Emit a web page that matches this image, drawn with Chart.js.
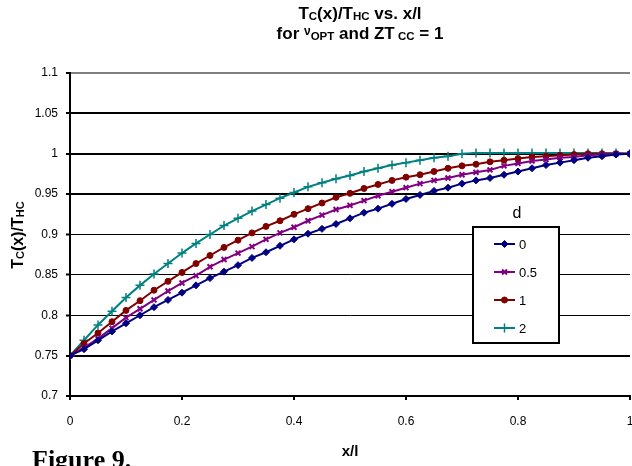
<!DOCTYPE html>
<html>
<head>
<meta charset="utf-8">
<script src="https://cdn.jsdelivr.net/npm/chart.js@4.4.1/dist/chart.umd.min.js"></script>
<style>
  html, body { margin: 0; padding: 0; background: #fff; }
  #wrap { position: relative; width: 632px; height: 466px; }
</style>
</head>
<body>
<div id="wrap"><canvas id="chart-tc" width="632" height="466"></canvas></div>
<script>
// Tc(x)/Thc along the leg, one curve per value of d

let xVals = [0, 0.025, 0.05, 0.075, 0.1, 0.125, 0.15, 0.175, 0.2, 0.225,
	0.25, 0.275, 0.3, 0.325, 0.35, 0.375, 0.4, 0.425, 0.45, 0.475,
	0.5, 0.525, 0.55, 0.575, 0.6, 0.625, 0.65, 0.675, 0.7, 0.725,
	0.75, 0.775, 0.8, 0.825, 0.85, 0.875, 0.9, 0.925, 0.95, 0.975, 1]

let tcD0 = [0.750, 0.758, 0.769, 0.780, 0.790, 0.800, 0.810, 0.819, 0.828, 0.837,
	0.846, 0.854, 0.862, 0.871, 0.878, 0.886, 0.894, 0.901, 0.907, 0.913,
	0.920, 0.927, 0.932, 0.938, 0.944, 0.949, 0.954, 0.958, 0.963, 0.967,
	0.970, 0.974, 0.978, 0.982, 0.986, 0.989, 0.992, 0.995, 0.997, 0.999, 1.000]

let tcD05 = [0.750, 0.760, 0.771, 0.784, 0.797, 0.808, 0.819, 0.830, 0.840, 0.849,
	0.860, 0.869, 0.877, 0.885, 0.894, 0.902, 0.909, 0.917, 0.924, 0.931,
	0.936, 0.942, 0.948, 0.953, 0.958, 0.963, 0.967, 0.970, 0.974, 0.977,
	0.980, 0.985, 0.988, 0.991, 0.993, 0.995, 0.996, 0.998, 0.999, 1.000, 1.000]

let tcD1 = [0.750, 0.765, 0.778, 0.792, 0.806, 0.818, 0.831, 0.842, 0.853, 0.864,
	0.874, 0.884, 0.893, 0.902, 0.910, 0.917, 0.925, 0.932, 0.939, 0.946,
	0.951, 0.957, 0.962, 0.967, 0.971, 0.974, 0.978, 0.982, 0.985, 0.987,
	0.990, 0.992, 0.994, 0.996, 0.997, 0.998, 0.999, 1.000, 1.000, 1.000, 1.000]

let tcD2 = [0.750, 0.769, 0.788, 0.805, 0.822, 0.837, 0.851, 0.864, 0.877, 0.889,
	0.900, 0.911, 0.920, 0.929, 0.937, 0.945, 0.952, 0.959, 0.964, 0.969,
	0.973, 0.978, 0.982, 0.986, 0.989, 0.992, 0.995, 0.997, 1.000, 1.001,
	1.001, 1.001, 1.001, 1.001, 1.001, 1.001, 1.001, 1.001, 1.001, 1.001, 1.000]

let dNames = ['0', '0.5', '1', '2']

const SANS = '"Liberation Sans", Arial, sans-serif'
const BIG = 'bold 17px ' + SANS
const SMALL = 'bold 11.5px ' + SANS
const AXBIG = 'bold 16px ' + SANS
const AXSMALL = 'bold 11px ' + SANS

// one line of text built from pieces that each have their own font / shift
function drawPieces(ctx, pieces, cx, baseline) {
	let total = 0
	pieces.forEach(p => {
		ctx.font = p.font
		p.w = ctx.measureText(p.text).width
		total += p.w
	})
	let x = cx - total / 2
	ctx.textAlign = 'left'
	ctx.textBaseline = 'alphabetic'
	pieces.forEach(p => {
		ctx.font = p.font
		ctx.fillText(p.text, x, baseline + (p.dy || 0))
		x += p.w
	})
}

let toPoints = (ys) => xVals.map((x, i) => ({ x: x, y: ys[i] }))

let lineSet = (label, ys, color, style, radius, bw) => ({
	label: label,
	data: toPoints(ys),
	borderColor: color,
	backgroundColor: color,
	borderWidth: 2,
	pointStyle: style,
	pointRadius: radius,
	pointBorderWidth: bw,
	pointBackgroundColor: color,
	pointBorderColor: color,
	tension: 0,
})

let datasets = [
	lineSet(dNames[0], tcD0, '#000080', 'rectRot', 3.5, 1),
	lineSet(dNames[1], tcD05, '#800080', 'crossRot', 3.5, 2),
	lineSet(dNames[2], tcD1, '#800000', 'circle', 3, 1),
	lineSet(dNames[3], tcD2, '#008080', 'cross', 4.5, 1.5),
]

// the x axis runs right up to the canvas edge, its last label may be cut off
let noOverhang = {
	id: 'noOverhang',
	beforeLayout(chart) {
		let sx = chart.scales.x
		if (sx) sx.getPadding = () => ({ left: 0, top: 0, right: 0, bottom: 0 })
	}
}

// titles, axis title with subscripts and the little caption
let textPlugin = {
	id: 'texts',
	afterDraw(chart) {
		let ctx = chart.ctx
		ctx.save()
		ctx.fillStyle = '#000'
		drawPieces(ctx, [
			{ text: 'T', font: BIG },
			{ text: 'C', font: SMALL, dy: 1 },
			{ text: '(x)/T', font: BIG },
			{ text: 'HC', font: SMALL, dy: 1 },
			{ text: ' vs. x/l', font: BIG },
		], 360, 19)
		drawPieces(ctx, [
			{ text: 'for ', font: BIG },
			{ text: 'ν', font: 'bold 12px ' + SANS, dy: -4 },
			{ text: 'OPT', font: SMALL, dy: 1 },
			{ text: ' and ZT', font: BIG },
			{ text: ' CC', font: SMALL, dy: 1 },
			{ text: ' = 1', font: BIG },
		], 360, 39)

		// y axis title, rotated
		ctx.save()
		ctx.translate(23, 235)
		ctx.rotate(-Math.PI / 2)
		drawPieces(ctx, [
			{ text: 'T', font: AXBIG },
			{ text: 'C', font: AXSMALL, dy: 1 },
			{ text: '(x)/T', font: AXBIG },
			{ text: 'HC', font: AXSMALL, dy: 1 },
		], 0, 0)
		ctx.restore()

		ctx.font = 'bold 26px "Liberation Serif", "Times New Roman", serif'
		ctx.textAlign = 'left'
		ctx.textBaseline = 'alphabetic'
		ctx.fillText('Figure 9.', 32, 468)
		ctx.restore()
	}
}

// boxed legend sitting inside the plot
let legendBox = {
	id: 'legendBox',
	afterDraw(chart) {
		let ctx = chart.ctx
		let left = 473, top = 227, w = 86, h = 116
		ctx.save()
		ctx.fillStyle = '#fff'
		ctx.fillRect(left, top, w, h)
		ctx.strokeStyle = '#000'
		ctx.lineWidth = 2
		ctx.strokeRect(left, top, w, h)

		ctx.fillStyle = '#000'
		ctx.font = '16px ' + SANS
		ctx.textAlign = 'center'
		ctx.textBaseline = 'middle'
		ctx.fillText('d', 517, 214)

		chart.data.datasets.forEach((ds, i) => {
			let y = 244 + i * 28
			ctx.strokeStyle = ds.borderColor
			ctx.fillStyle = ds.borderColor
			ctx.lineWidth = 2
			ctx.beginPath()
			ctx.moveTo(494, y)
			ctx.lineTo(515, y)
			ctx.stroke()
			if (Chart.helpers && Chart.helpers.drawPoint) {
				ctx.lineWidth = ds.pointBorderWidth
				Chart.helpers.drawPoint(ctx, {
					pointStyle: ds.pointStyle,
					radius: ds.pointRadius,
					borderWidth: ds.pointBorderWidth,
					rotation: 0,
				}, 504.5, y)
			}
			ctx.fillStyle = '#000'
			ctx.font = '13px ' + SANS
			ctx.textAlign = 'left'
			ctx.fillText(ds.label, 519, y + 1)
		})
		ctx.restore()
	}
}

let yGridWidth = (v) => {
	let r = Math.round(v * 100)
	return (r === 90 || r === 85 || r === 80) ? 1 : 2
}

var tcChart = new Chart(document.getElementById('chart-tc'), {
	type: 'line',
	data: { datasets: datasets },
	options: {
		responsive: false,
		animation: false,
		devicePixelRatio: 1,
		layout: {
			autoPadding: false,
			padding: { top: 73, right: 2, bottom: 0, left: 0 },
		},
		plugins: {
			legend: { display: false },
			title: { display: false },
			tooltip: { enabled: false },
		},
		scales: {
			x: {
				type: 'linear',
				min: 0,
				max: 1,
				ticks: {
					stepSize: 0.2,
					padding: 14,
					color: '#000',
					font: { family: SANS, size: 12 },
					maxRotation: 0,
					callback: (v) => String(+v.toFixed(1)),
				},
				grid: {
					drawOnChartArea: false,
					drawTicks: true,
					tickLength: 4,
					color: '#000',
					lineWidth: 2,
				},
				border: { display: true, color: '#000', width: 2 },
				title: {
					display: true,
					text: 'x/l',
					color: '#000',
					font: { family: SANS, size: 15, weight: 'bold' },
					padding: { top: 4, bottom: 5 },
				},
				afterFit: (s) => {
					s.height = 70
					s.paddingRight = 0
					s.paddingLeft = 0
				},
			},
			y: {
				min: 0.7,
				max: 1.1,
				ticks: {
					stepSize: 0.05,
					padding: 8,
					color: '#000',
					font: { family: SANS, size: 12 },
					callback: (v) => String(+v.toFixed(2)),
				},
				grid: {
					color: (c) => (c.tick && Math.round(c.tick.value * 100) === 110) ? '#808080' : '#000',
					lineWidth: (c) => c.tick ? yGridWidth(c.tick.value) : 1,
					tickColor: '#000',
					tickWidth: 2,
					tickLength: 4,
				},
				border: { display: true, color: '#000', width: 2 },
				afterFit: (s) => {
					s.width = 70
				},
			},
		},
	},
	plugins: [noOverhang, textPlugin, legendBox],
})
</script>
</body>
</html>
